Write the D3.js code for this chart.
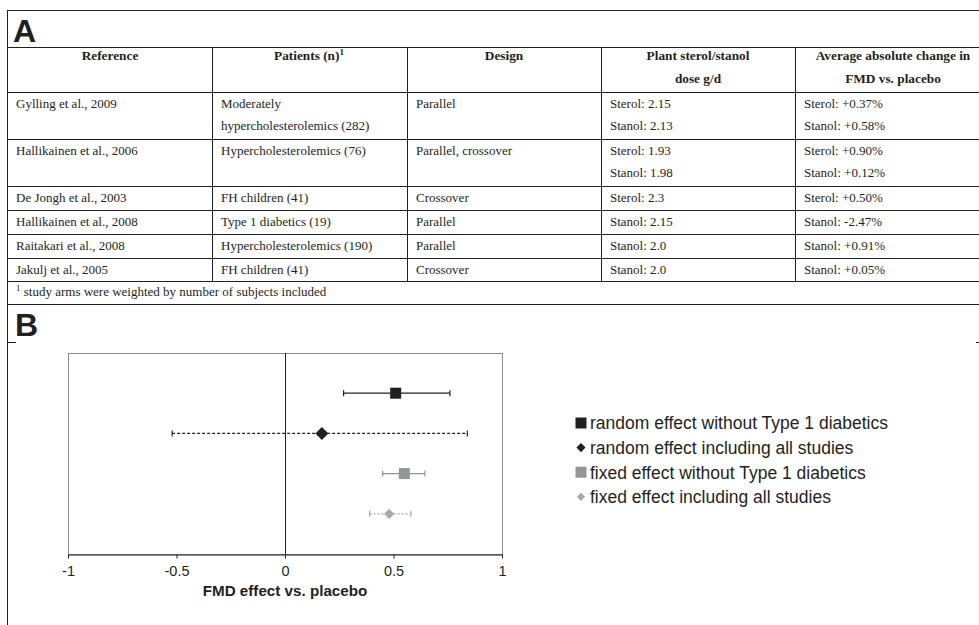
<!DOCTYPE html>
<html>
<head>
<meta charset="utf-8">
<script src="https://cdn.jsdelivr.net/npm/d3@7"></script>
<style>
  body { margin: 0; background: #fff; }
  .cell { font-family: "Liberation Serif", "Times New Roman", serif; font-size: 13px; fill: #231f20; }
  .head { font-weight: bold; font-size: 13.3px; }
  .panel { font-family: "Liberation Sans", Arial, sans-serif; font-weight: bold; font-size: 32px; fill: #231f20; }
  .tick text { font-family: "Liberation Sans", Arial, sans-serif; font-size: 14.5px; fill: #231f20; }
  .legend { font-family: "Liberation Sans", Arial, sans-serif; font-size: 17.5px; fill: #231f20; }
</style>
</head>
<body>
<div id="chart"></div>
<script>
// ---- panel A: table data ----
var headers = [["Reference"], ["Patients (n)"], ["Design"], ["Plant sterol/stanol", "dose g/d"], ["Average absolute change in", "FMD vs. placebo"]];
var refs = ["Gylling et al., 2009", "Hallikainen et al., 2006", "De Jongh et al., 2003", "Hallikainen et al., 2008", "Raitakari et al., 2008", "Jakulj et al., 2005"];
var patients = [["Moderately", "hypercholesterolemics (282)"], ["Hypercholesterolemics (76)"], ["FH children (41)"], ["Type 1 diabetics (19)"], ["Hypercholesterolemics (190)"], ["FH children (41)"]];
var designs = ["Parallel", "Parallel, crossover", "Crossover", "Parallel", "Parallel", "Crossover"];
var doses = [["Sterol: 2.15", "Stanol: 2.13"], ["Sterol: 1.93", "Stanol: 1.98"], ["Sterol: 2.3"], ["Stanol: 2.15"], ["Stanol: 2.0"], ["Stanol: 2.0"]];
var changes = [["Sterol: +0.37%", "Stanol: +0.58%"], ["Sterol: +0.90%", "Stanol: +0.12%"], ["Sterol: +0.50%"], ["Stanol: -2.47%"], ["Stanol: +0.91%"], ["Stanol: +0.05%"]];
var footnote = "study arms were weighted by number of subjects included";

// ---- panel B: forest plot data ----
var effectLabels = ["random effect without Type 1 diabetics", "random effect including all studies", "fixed effect without Type 1 diabetics", "fixed effect including all studies"];
var effects = [0.51, 0.17, 0.55, 0.48];
var lower = [0.27, -0.52, 0.45, 0.39];
var upper = [0.76, 0.84, 0.645, 0.58];
var xTicks = [-1, -0.5, 0, 0.5, 1];

var W = 979, H = 625;
var ink = "#231f20";

var svg = d3.select("#chart")
  .append("svg")
    .attr("width", W)
    .attr("height", H);

svg.append("rect").attr("width", W).attr("height", H).attr("fill", "#fff");

// outer frame: top line + left border
svg.append("line").attr("x1", 7).attr("x2", W).attr("y1", 10.5).attr("y2", 10.5).attr("stroke", ink);
svg.append("line").attr("x1", 7.5).attr("x2", 7.5).attr("y1", 10).attr("y2", H).attr("stroke", ink);

svg.append("text").attr("class", "panel").attr("x", 13).attr("y", 42).text("A");

// ---- table ----
var colX = [7, 212, 407, 601, 795, W];
var headTop = 47, headH = 45;
var rowTops = [], t = headTop + headH;
refs.forEach(function(r, i) {
  rowTops.push(t);
  t += (patients[i].length > 1 || doses[i].length > 1) ? 47 : 24;
});
var tableBottom = t - 1;
var footBottom = tableBottom + 23;

var grid = svg.append("g").attr("stroke", ink).attr("stroke-width", 1);
[headTop, headTop + headH].concat(rowTops.slice(1), [tableBottom, footBottom]).forEach(function(y) {
  grid.append("line").attr("x1", 7).attr("x2", W).attr("y1", y + 0.5).attr("y2", y + 0.5);
});
colX.slice(1, 5).forEach(function(x) {
  grid.append("line").attr("x1", x + 0.5).attr("x2", x + 0.5).attr("y1", headTop).attr("y2", tableBottom);
});

// header text, centred in each column (last column runs past the page edge)
var headCx = [110, 309, 504, 698, 893];
headers.forEach(function(lines, c) {
  lines.forEach(function(s, k) {
    var tx = svg.append("text").attr("class", "cell head")
      .attr("x", headCx[c]).attr("y", headTop + 13 + k * 22.5)
      .attr("text-anchor", "middle")
      .text(s);
    if (c === 1) {
      tx.append("tspan").attr("dy", -5).attr("font-size", 9).text("1");
    }
  });
});

// body rows
var columns = [refs.map(function(d) { return [d]; }), patients, designs.map(function(d) { return [d]; }), doses, changes];
rowTops.forEach(function(top, i) {
  columns.forEach(function(col, c) {
    col[i].forEach(function(s, k) {
      svg.append("text").attr("class", "cell")
        .attr("x", colX[c] + 9)
        .attr("y", top + 15.5 + k * 22.5)
        .text(s);
    });
  });
});

var fn = svg.append("text").attr("class", "cell").attr("x", 16).attr("y", tableBottom + 15);
fn.append("tspan").attr("font-size", 9).attr("dy", -5).text("1");
fn.append("tspan").attr("dy", 5).text(" " + footnote);

// ---- panel B ----
svg.append("line").attr("x1", 7).attr("x2", 16).attr("y1", 342.5).attr("y2", 342.5).attr("stroke", ink);
svg.append("line").attr("x1", 976).attr("x2", W).attr("y1", 342.5).attr("y2", 342.5).attr("stroke", ink);
svg.append("text").attr("class", "panel").attr("x", 15).attr("y", 336).text("B");

var x = d3.scaleLinear().domain([-1, 1]).range([68, 502]);
var y = d3.scaleLinear().domain([0, effects.length + 1]).range([353, 554]);

svg.append("rect")
  .attr("x", x(-1) + 0.5).attr("y", y(0) + 0.5)
  .attr("width", x(1) - x(-1)).attr("height", y(effects.length + 1) - y(0))
  .attr("fill", "none").attr("stroke", "#8c8c8c");

svg.append("line")
  .attr("x1", x(0) + 0.5).attr("x2", x(0) + 0.5)
  .attr("y1", y(0)).attr("y2", y(effects.length + 1))
  .attr("stroke", ink);

var axis = svg.append("g")
  .attr("transform", "translate(0," + (y(effects.length + 1) + 0.5) + ")")
  .call(d3.axisBottom(x).tickValues(xTicks).tickSize(4).tickSizeOuter(0).tickPadding(7)
    .tickFormat(function(d) { return String(d); }));
axis.selectAll("path, line").attr("stroke", ink);

svg.append("text")
  .attr("x", x(0)).attr("y", 596)
  .attr("text-anchor", "middle")
  .attr("font-family", "Liberation Sans, Arial, sans-serif")
  .attr("font-weight", "bold")
  .attr("font-size", 15.2)
  .attr("fill", ink)
  .text("FMD effect vs. placebo");

// series styles: diamonds are squares turned 45 degrees
var colors = [ink, ink, "#939598", "#a7a9ac"];
var dashes = [null, "3,2", null, "2,2"];
var turn = [0, 45, 0, 45];
var sizes = [121, 85, 121, 52];
var legSizes = [121, 42, 121, 34];

var rows = svg.append("g").selectAll("g")
  .data(effects)
  .enter()
  .append("g")
    .attr("transform", function(d, i) { return "translate(0," + y(i + 1) + ")"; });

rows.append("line")
  .attr("x1", function(d, i) { return x(lower[i]); })
  .attr("x2", function(d, i) { return x(upper[i]); })
  .attr("stroke", function(d, i) { return colors[i]; })
  .attr("stroke-width", 1.3)
  .attr("stroke-dasharray", function(d, i) { return dashes[i]; });

[lower, upper].forEach(function(arr) {
  rows.append("line")
    .attr("x1", function(d, i) { return x(arr[i]); })
    .attr("x2", function(d, i) { return x(arr[i]); })
    .attr("y1", -3).attr("y2", 3)
    .attr("stroke", function(d, i) { return colors[i]; })
    .attr("stroke-width", 1.2);
});

rows.append("path")
  .attr("transform", function(d, i) { return "translate(" + x(d) + ",0) rotate(" + turn[i] + ")"; })
  .attr("d", function(d, i) { return d3.symbol().type(d3.symbolSquare).size(sizes[i])(); })
  .attr("fill", function(d, i) { return colors[i]; });

// legend
var leg = svg.append("g").selectAll("g")
  .data(effectLabels)
  .enter()
  .append("g")
    .attr("transform", function(d, i) { return "translate(581," + (423 + i * 24.6) + ")"; });

leg.append("path")
  .attr("transform", function(d, i) { return "rotate(" + turn[i] + ")"; })
  .attr("d", function(d, i) { return d3.symbol().type(d3.symbolSquare).size(legSizes[i])(); })
  .attr("fill", function(d, i) { return colors[i]; });

leg.append("text")
  .attr("class", "legend")
  .attr("x", 9)
  .attr("dy", "0.36em")
  .text(function(d) { return d; });
</script>
</body>
</html>
